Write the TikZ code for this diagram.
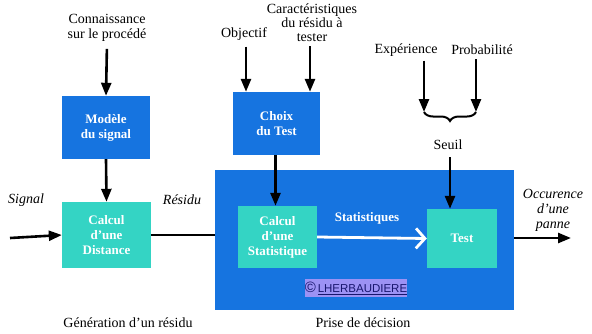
\documentclass[tikz,border=0pt]{standalone}
\usepackage{fontspec}
\setmainfont{Liberation Serif}
\newfontfamily\cpfont{Liberation Sans}
\usetikzlibrary{arrows.meta,positioning,decorations.pathreplacing}
\definecolor{bleu}{RGB}{22,116,224}
\definecolor{turq}{RGB}{52,212,196}
\definecolor{lavande}{RGB}{156,146,244}
\definecolor{marine}{RGB}{24,22,110}
\begin{document}
\begin{tikzpicture}[
  x=1pt, y=-1pt,
  font=\rmfamily\fontsize{14}{14.5}\selectfont,
  blkA/.style={fill=bleu, text=white, font=\rmfamily\fontsize{13}{15}\selectfont\bfseries,
              align=center, inner sep=0pt},
  blkB/.style={fill=turq, text=white, font=\rmfamily\fontsize{13}{15}\selectfont\bfseries,
              align=center, inner sep=0pt},
  lbl/.style={inner sep=1pt, align=center},
  ital/.style={inner sep=1pt, align=center, font=\rmfamily\fontsize{14}{15}\selectfont\itshape},
  arr/.style={-{Triangle[length=13pt,width=10pt]}, line width=2.6pt},
  lin/.style={line width=2.6pt},
  warr/.style={-{Straight Barb[length=9pt,width=20pt]}, line width=2.8pt, white}
]
\useasboundingbox[fill=white] (0,0) rectangle (592,333);
% ---------------- residual generation ----------------
\node[blkA, minimum width=88pt, minimum height=63pt] (mod) at (106,127.5)
  {Modèle\\du signal};
\node[blkB, minimum width=89pt, minimum height=66pt] (dist) at (106.5,235)
  {Calcul\\d'une\\Distance};
\node[lbl, font=\rmfamily\fontsize{14}{15}\selectfont] (conn) at (107,28)
  {Connaissance\\sur le procédé};
\node[ital] (sig) at (26,200) {Signal};
\node[ital] (res) at (182,200) {Résidu};
\coordinate (in) at (10,238);
% ---------------- decision ----------------
\node[fill=bleu, minimum width=299pt, minimum height=140pt, inner sep=0pt]
  (prise) at (364.5,240) {};
\node[blkA, minimum width=87pt, minimum height=63pt] (choix) at (276.5,123.5)
  {Choix\\du Test};
\node[blkB, minimum width=79pt, minimum height=62pt] (stat) at (277.5,237)
  {Calcul\\d'une\\Statistique};
\node[blkB, minimum width=70pt, minimum height=59pt] (test) at (462,238.5)
  {Test};
\node[lbl, text=white, font=\rmfamily\fontsize{13}{15}\selectfont\bfseries] (stats)
  at (367,218) {Statistiques};
\node[fill=lavande, text=marine, inner sep=0pt, minimum width=96pt,
  minimum height=18pt, font=\cpfont\fontsize{11.5}{12}\selectfont] (cp)
  at (356,288) {{\fontsize{15}{15}\selectfont ©}\,\underline{LHERBAUDIERE}};
\node[lbl] (obj) at (244,34) {Objectif};
\node[lbl, font=\rmfamily\fontsize{14}{14}\selectfont] (carac) at (312,23)
  {Caractéristiques\\du résidu à\\tester};
\node[lbl] (exp) at (406,50) {Expérience};
\node[lbl] (prob) at (482,50) {Probabilité};
\node[lbl] (seuil) at (448,145) {Seuil};
\node[ital] (occ) at (553,210)
  {Occurence\\d'une\\panne};
\coordinate (out) at (571,238);
\coordinate (brL) at (424,112);
\coordinate (brR) at (476,112);
% ---------------- captions ----------------
\node[lbl] (gen) at (128,323) {Génération d'un résidu};
\node[lbl] (pd) at (363,323) {Prise de décision};
% ---------------- edges ----------------
\draw[arr, shorten <=6pt] (conn.south) -- (mod.north);
\draw[arr] (mod.south) -- (dist.north);
\draw[arr] (in) -- (dist.west);
\draw[lin] (dist.east) -- (dist.east -| prise.west);
\draw[arr, shorten <=5pt] (obj.south) ++(2,0) coordinate (o1) -- (o1 |- choix.north);
\draw[arr, shorten <=3pt] (carac.south) ++(-2,0) coordinate (c1) -- (c1 |- choix.north);
\draw[arr] (choix.south -| stat.north) ++(-2,0) coordinate (s1) -- (s1 |- stat.north);
\draw[arr, shorten <=3pt] (exp.south) ++(18,0) coordinate (e1) -- (e1 |- brL);
\draw[arr, shorten <=3pt] (prob.south) ++(-6,0) coordinate (p1) -- (p1 |- brR);
\draw[line width=2pt, decorate, decoration={brace, mirror, amplitude=9pt}]
  (brL) -- (brR);
\draw[arr, shorten <=6pt] (seuil.south) ++(2,0) coordinate (t1) -- (t1 |- test.north);
\draw[warr] (stat.east) -- (test.west);
\draw[arr] (prise.east |- out) -- (out);
\end{tikzpicture}
\end{document}
